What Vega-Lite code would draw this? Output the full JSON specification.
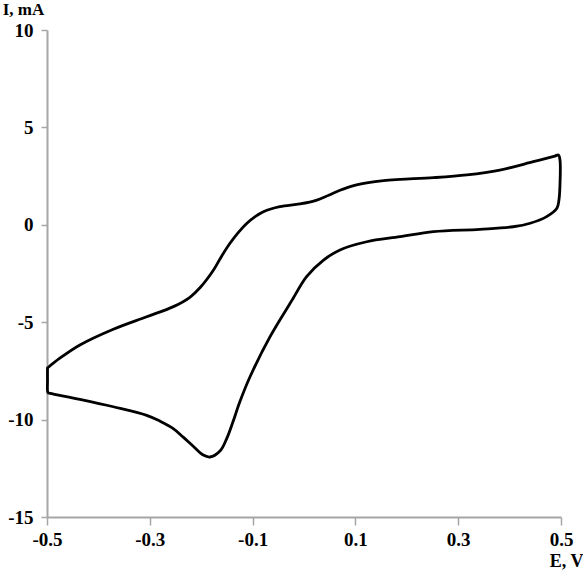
{
  "$schema": "https://vega.github.io/schema/vega-lite/v6.json",
  "width": 514,
  "height": 487,
  "autosize": {"type": "none"},
  "padding": {"left": 47, "top": 30, "right": 22, "bottom": 59},
  "background": "white",
  "config": {"view": {"stroke": null}},
  "data": {"values": [
    {"o": 1, "E": -0.499, "I": -7.35},
    {"o": 2, "E": -0.475, "I": -6.85},
    {"o": 3, "E": -0.436, "I": -6.17},
    {"o": 4, "E": -0.371, "I": -5.36},
    {"o": 5, "E": -0.306, "I": -4.72},
    {"o": 6, "E": -0.254, "I": -4.20},
    {"o": 7, "E": -0.222, "I": -3.72},
    {"o": 8, "E": -0.202, "I": -3.22},
    {"o": 9, "E": -0.176, "I": -2.32},
    {"o": 10, "E": -0.160, "I": -1.60},
    {"o": 11, "E": -0.144, "I": -0.95},
    {"o": 12, "E": -0.128, "I": -0.40},
    {"o": 13, "E": -0.111, "I": 0.08},
    {"o": 14, "E": -0.095, "I": 0.42},
    {"o": 15, "E": -0.079, "I": 0.67},
    {"o": 16, "E": -0.047, "I": 0.93},
    {"o": 17, "E": -0.008, "I": 1.07},
    {"o": 18, "E": 0.025, "I": 1.27},
    {"o": 19, "E": 0.048, "I": 1.52},
    {"o": 20, "E": 0.070, "I": 1.77},
    {"o": 21, "E": 0.095, "I": 2.00},
    {"o": 22, "E": 0.122, "I": 2.15},
    {"o": 23, "E": 0.155, "I": 2.27},
    {"o": 24, "E": 0.187, "I": 2.33},
    {"o": 25, "E": 0.252, "I": 2.42},
    {"o": 26, "E": 0.317, "I": 2.56},
    {"o": 27, "E": 0.381, "I": 2.81},
    {"o": 28, "E": 0.446, "I": 3.24},
    {"o": 29, "E": 0.488, "I": 3.53},
    {"o": 30, "E": 0.495, "I": 3.58},
    {"o": 31, "E": 0.498, "I": 3.33},
    {"o": 32, "E": 0.498, "I": 2.04},
    {"o": 33, "E": 0.496, "I": 1.27},
    {"o": 34, "E": 0.492, "I": 0.85},
    {"o": 35, "E": 0.472, "I": 0.42},
    {"o": 36, "E": 0.440, "I": 0.08},
    {"o": 37, "E": 0.407, "I": -0.10},
    {"o": 38, "E": 0.342, "I": -0.23},
    {"o": 39, "E": 0.252, "I": -0.35},
    {"o": 40, "E": 0.187, "I": -0.61},
    {"o": 41, "E": 0.122, "I": -0.87},
    {"o": 42, "E": 0.070, "I": -1.29},
    {"o": 43, "E": 0.038, "I": -1.81},
    {"o": 44, "E": 0.005, "I": -2.66},
    {"o": 45, "E": -0.021, "I": -3.77},
    {"o": 46, "E": -0.027, "I": -4.03},
    {"o": 47, "E": -0.066, "I": -5.74},
    {"o": 48, "E": -0.105, "I": -7.80},
    {"o": 49, "E": -0.125, "I": -9.10},
    {"o": 50, "E": -0.138, "I": -10.10},
    {"o": 51, "E": -0.150, "I": -10.95},
    {"o": 52, "E": -0.163, "I": -11.60},
    {"o": 53, "E": -0.183, "I": -11.92},
    {"o": 54, "E": -0.196, "I": -11.82},
    {"o": 55, "E": -0.215, "I": -11.38},
    {"o": 56, "E": -0.235, "I": -10.90},
    {"o": 57, "E": -0.255, "I": -10.45},
    {"o": 58, "E": -0.280, "I": -10.08},
    {"o": 59, "E": -0.306, "I": -9.78},
    {"o": 60, "E": -0.371, "I": -9.34},
    {"o": 61, "E": -0.436, "I": -8.96},
    {"o": 62, "E": -0.494, "I": -8.65},
    {"o": 63, "E": -0.498, "I": -8.62},
    {"o": 64, "E": -0.499, "I": -8.0},
    {"o": 65, "E": -0.499, "I": -7.35}
  ]},
  "mark": {"type": "line", "color": "black", "strokeWidth": 2.8, "strokeJoin": "round", "strokeCap": "round", "clip": false, "interpolate": "catmull-rom"},
  "encoding": {
    "order": {"field": "o", "type": "quantitative"},
    "x": {
      "field": "E", "type": "quantitative",
      "scale": {"domain": [-0.5, 0.5], "nice": false, "zero": false},
      "axis": {
        "values": [-0.5, -0.3, -0.1, 0.1, 0.3, 0.5],
        "labelExpr": "(datum.value < 0 ? '-' : '') + format(abs(datum.value), '.1f')",
        "grid": false,
        "domainColor": "#a6a6a6", "domainWidth": 2,
        "tickColor": "#a6a6a6", "tickWidth": 1.5, "tickSize": 8,
        "labelFont": "Liberation Serif", "labelFontSize": 19, "labelFontWeight": "bold", "labelColor": "black",
        "labelPadding": 5,
        "labelFlush": false,
        "title": "E, V",
        "titleFont": "Liberation Serif", "titleFontSize": 18, "titleFontWeight": "bold", "titleColor": "black",
        "titleAlign": "right", "titleAnchor": null, "titleX": 536, "titleY": 49, "titleBaseline": "alphabetic"
      }
    },
    "y": {
      "field": "I", "type": "quantitative",
      "scale": {"domain": [-15, 10], "nice": false, "zero": false},
      "axis": {
        "values": [-15, -10, -5, 0, 5, 10],
        "labelExpr": "(datum.value < 0 ? '-' : '') + format(abs(datum.value), 'd')",
        "grid": false,
        "domainColor": "#a6a6a6", "domainWidth": 2,
        "tickColor": "#a6a6a6", "tickWidth": 1.5, "tickSize": 6,
        "labelFont": "Liberation Serif", "labelFontSize": 19, "labelFontWeight": "bold", "labelColor": "black",
        "labelPadding": 8,
        "labelFlush": false,
        "title": "I, mA",
        "titleFont": "Liberation Serif", "titleFontSize": 17, "titleFontWeight": "bold", "titleColor": "black",
        "titleAngle": 0, "titleAlign": "center", "titleAnchor": null, "titleX": -24, "titleY": -16, "titleBaseline": "alphabetic"
      }
    }
  }
}
